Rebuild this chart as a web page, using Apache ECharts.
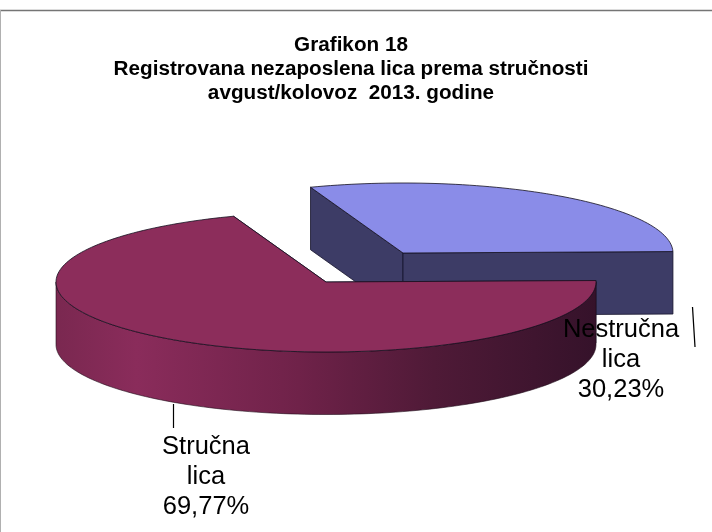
<!DOCTYPE html>
<html>
<head>
<meta charset="utf-8">
<style>
  html, body { margin: 0; padding: 0; background: #fff; }
  #chart { width: 712px; height: 532px; }
</style>
</head>
<body>
<div id="chart"></div>
<script src="https://cdn.jsdelivr.net/npm/echarts@6/dist/echarts.min.js"></script>
<script>
const categories = ['Nestručna lica', 'Stručna lica']
const shares = [30.23, 69.77]
const shareLabels = ['30,23%', '69,77%']

const RX = 270
const RY = 70
const DEPTH = 62.5
// the source pie sits a little off 3 o'clock
const ROTATION = -1.2
const centers = [[403, 253], [326, 282]]
const topColors = ['#8a8ce8', '#8c2d5b']
const wallColors = ['#3d3c66', '#6a2048']
const labelCenters = [[621, 360], [206, 477]]
const leaders = [[[692.5, 307], [695, 347]], [[173.5, 404], [173.5, 428]]]

const rimGradient = {
  type: 'linear', x: 0, y: 0, x2: 1, y2: 0,
  colorStops: [
    { offset: 0, color: '#7a2850' },
    { offset: 0.15, color: '#8a2c5b' },
    { offset: 0.45, color: '#6f2249' },
    { offset: 0.7, color: '#4f1a37' },
    { offset: 1, color: '#35122a' },
  ],
}

// slices run clockwise, the second one begins at about 3 o'clock
function sliceAngles(index) {
  const start = ROTATION - shares[0] * 3.6
  const before = shares.slice(0, index).reduce((a, b) => a + b, 0)
  return [start + before * 3.6, start + (before + shares[index]) * 3.6]
}

function rimPoint(center, deg, drop) {
  const a = deg * Math.PI / 180
  return [center[0] + RX * Math.cos(a), center[1] + RY * Math.sin(a) + drop]
}

function arcPoints(center, from, to, drop) {
  const points = []
  const steps = Math.max(2, Math.ceil((to - from) / 1.5))
  for (let i = 0; i <= steps; i += 1) {
    points.push(rimPoint(center, from + (to - from) * i / steps, drop))
  }
  return points
}

function cutWall(center, deg, color) {
  const rim = rimPoint(center, deg, 0)
  return {
    type: 'polygon',
    shape: { points: [center, rim, [rim[0], rim[1] + DEPTH], [center[0], center[1] + DEPTH]] },
    style: { fill: color, stroke: '#15132b', lineWidth: 0.8 },
  }
}

function renderSlice(params, api) {
  const index = api.value(0)
  const center = centers[index]
  const [from, to] = sliceAngles(index)
  const children = [
    cutWall(center, from, wallColors[index]),
    cutWall(center, to, wallColors[index]),
  ]

  const wallFrom = Math.max(from, 0)
  const wallTo = Math.min(to, 180)
  if (wallTo > wallFrom) {
    const upper = arcPoints(center, wallFrom, wallTo, 0)
    const lower = arcPoints(center, wallFrom, wallTo, DEPTH).reverse()
    children.push({
      type: 'polygon',
      shape: { points: upper.concat(lower) },
      style: { fill: rimGradient, stroke: '#1f0a18', lineWidth: 0.6 },
    })
  }

  children.push({
    type: 'polygon',
    shape: { points: [center].concat(arcPoints(center, from, to, 0)) },
    style: { fill: topColors[index], stroke: '#14101f', lineWidth: 0.8 },
  })

  children.push({
    type: 'line',
    z2: 20,
    shape: {
      x1: leaders[index][0][0], y1: leaders[index][0][1],
      x2: leaders[index][1][0], y2: leaders[index][1][1],
    },
    style: { stroke: '#000', lineWidth: 1.2 },
  })
  children.push({
    type: 'text',
    z2: 20,
    x: labelCenters[index][0],
    y: labelCenters[index][1],
    style: {
      text: categories[index].replace(' ', '\n') + '\n' + shareLabels[index],
      fill: '#000',
      font: '25.5px "Liberation Sans", Arial, sans-serif',
      lineHeight: 30,
      align: 'center',
      verticalAlign: 'middle',
    },
  })

  return { type: 'group', children }
}

const chart = echarts.init(document.getElementById('chart'))

chart.setOption({
  animation: false,
  backgroundColor: '#fff',
  title: {
    text: 'Grafikon 18\nRegistrovana nezaposlena lica prema stručnosti\navgust/kolovoz  2013. godine',
    left: 346,
    top: 28,
    textAlign: 'center',
    textStyle: {
      fontFamily: '"Liberation Sans", Arial, sans-serif',
      fontSize: 20.7,
      fontWeight: 'bold',
      lineHeight: 24,
      color: '#000',
    },
  },
  graphic: [{
    type: 'line',
    shape: { x1: 0, y1: 10.5, x2: 712, y2: 10.5 },
    style: { stroke: '#757575', lineWidth: 1.4 },
  }, {
    type: 'line',
    shape: { x1: 0.5, y1: 10, x2: 0.5, y2: 532 },
    style: { stroke: '#b0b0b0', lineWidth: 1 },
  }],
  series: [{
    type: 'custom',
    coordinateSystem: 'none',
    data: categories.map((name, i) => ({ name, value: [i, shares[i]] })),
    renderItem: renderSlice,
  }],
})

window.addEventListener('resize', () => {
  chart.resize()
})
</script>
</body>
</html>
